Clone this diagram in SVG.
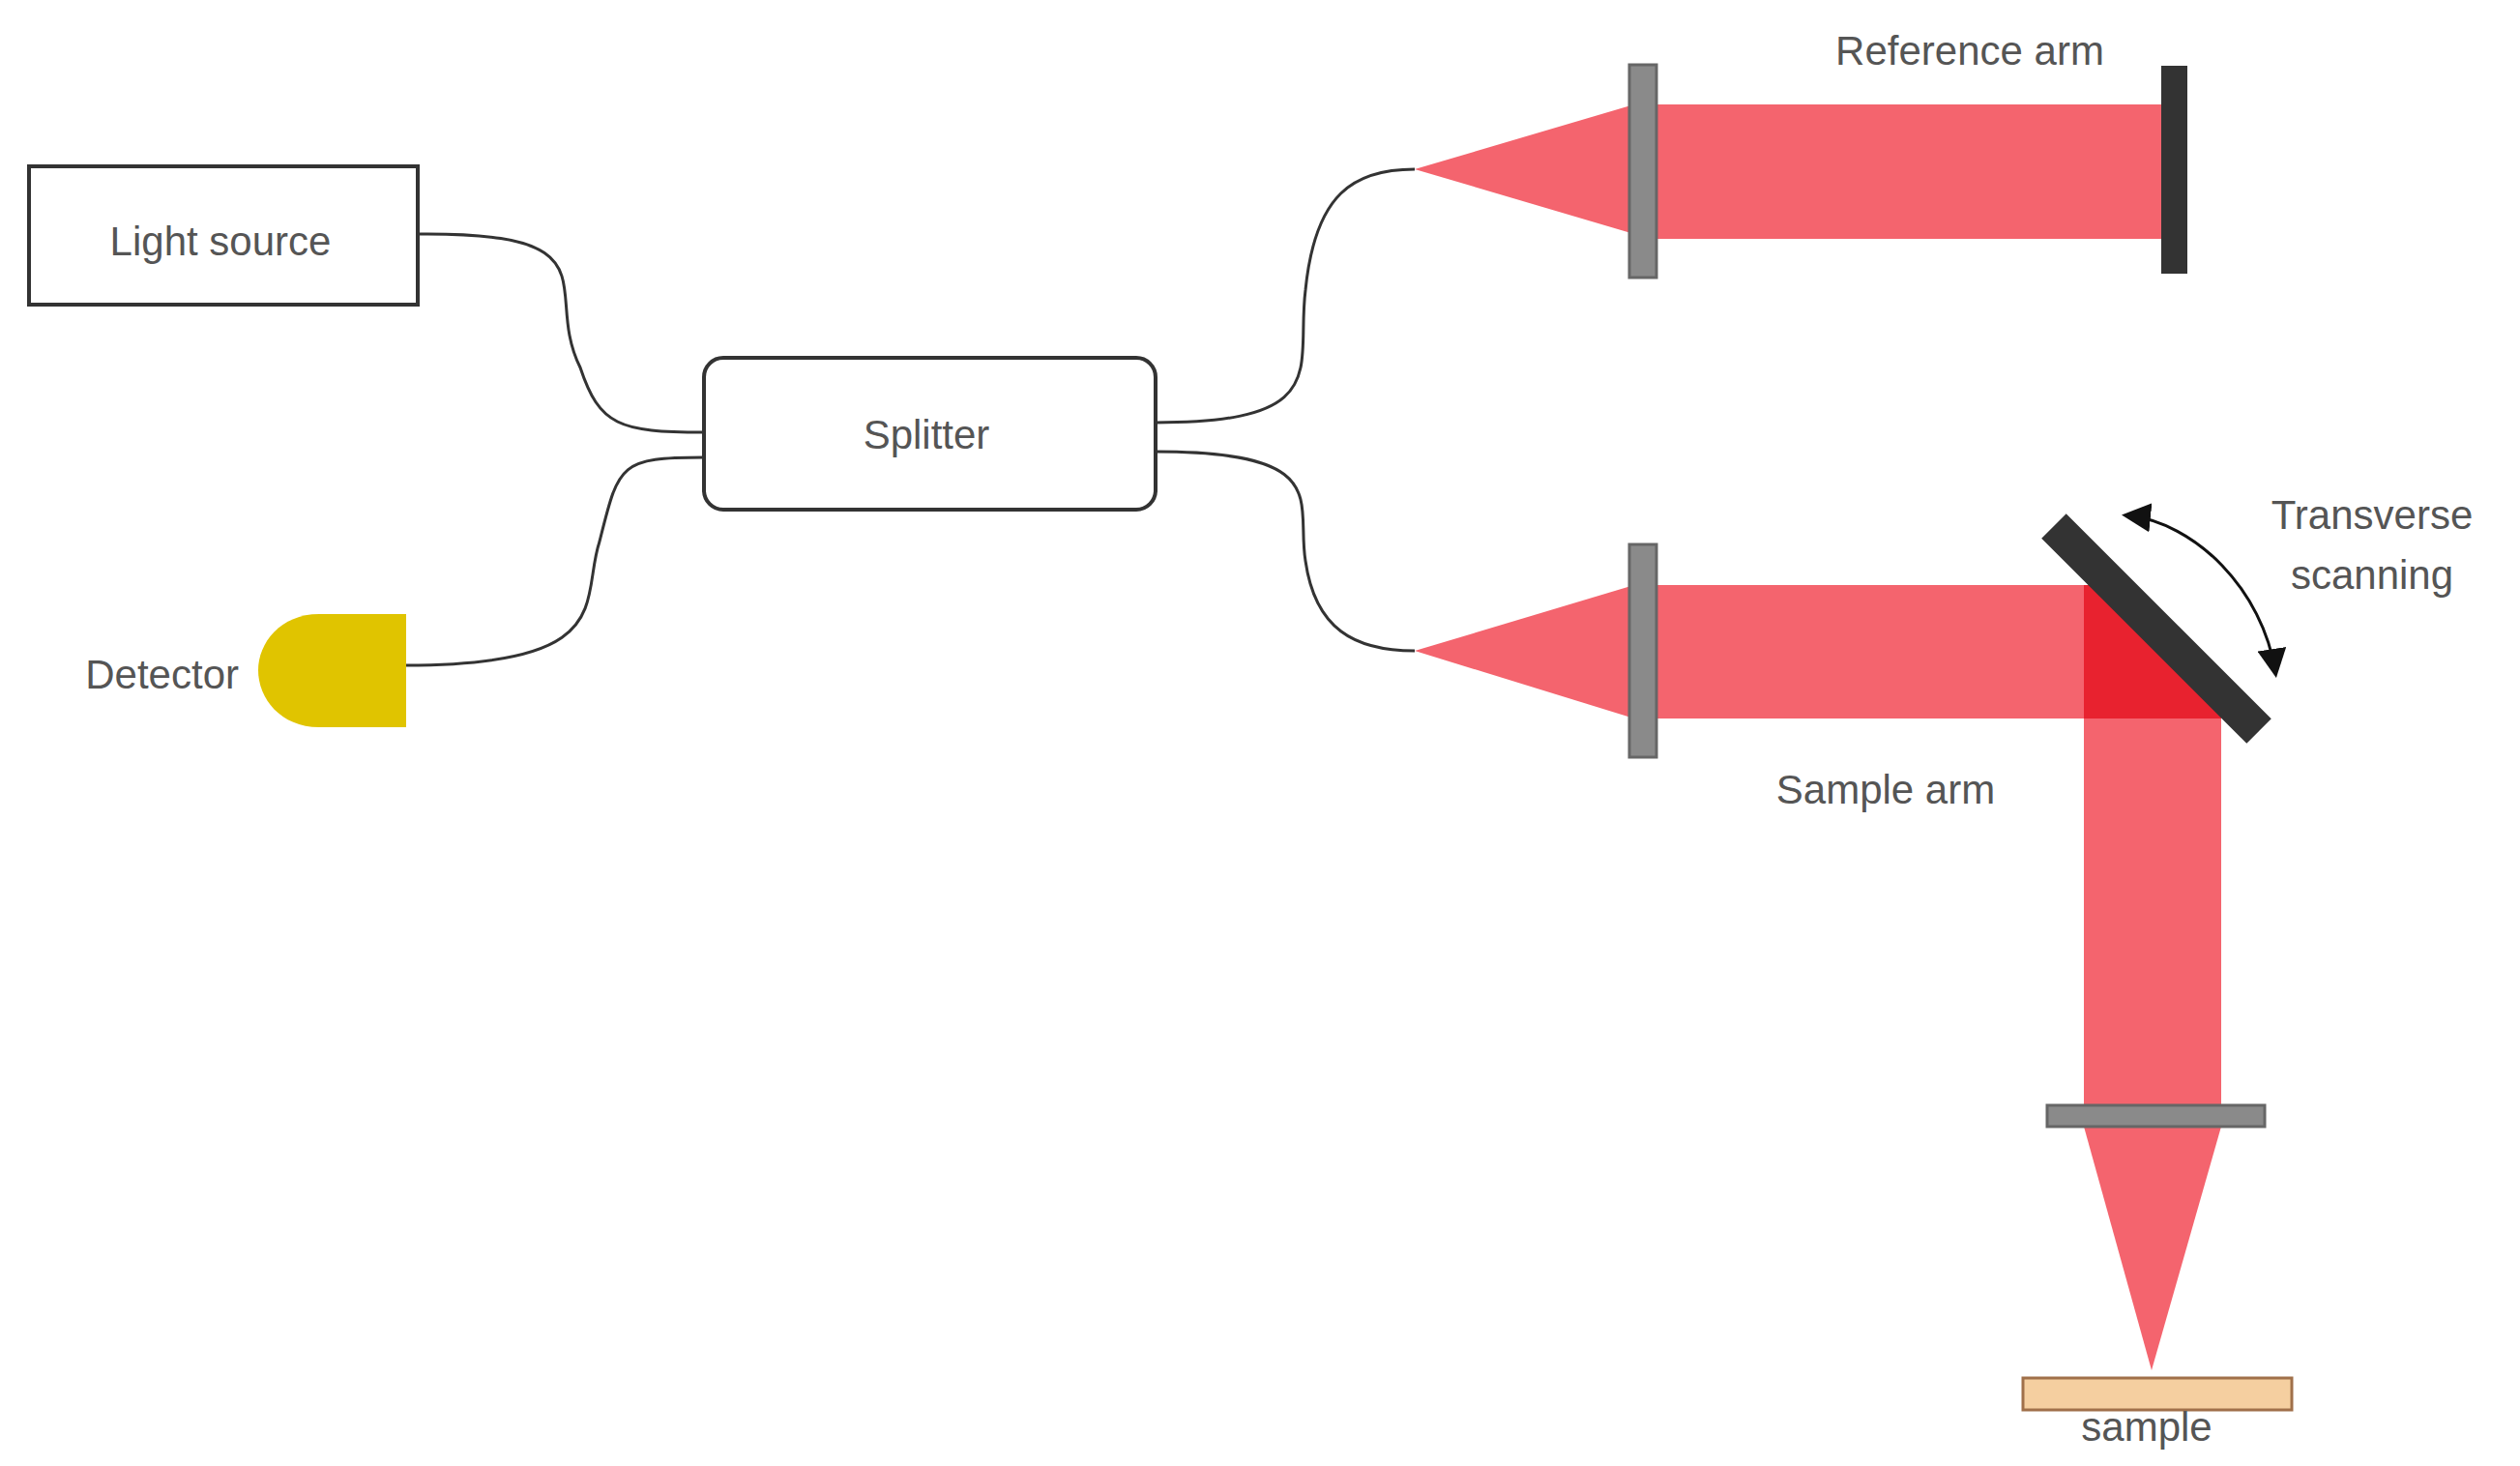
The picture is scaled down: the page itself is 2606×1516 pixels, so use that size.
<svg xmlns="http://www.w3.org/2000/svg" width="2606" height="1516" viewBox="0 0 2606 1516">
<defs>
<style>
text{font-family:"Liberation Sans",Arial,sans-serif;font-size:42px;fill:#555}
.box{fill:#fff;stroke:#333;stroke-width:4}
.fiber{fill:none;stroke:#333;stroke-width:3}
.beam{fill:#f4646e}
.lens{fill:#8a8a8a;stroke:#666;stroke-width:3}
</style>
<marker id="ah" viewBox="0 0 10 10" refX="8" refY="5" markerWidth="10" markerHeight="10" orient="auto-start-reverse"><path d="M0,0L10,5L0,10z" fill="#111"/></marker>
</defs>
<rect width="2606" height="1516" fill="#fff"/>
<g id="connectors">
<path class="fiber" d="M432,242 C640,240 560,300 600,380 C620,440 640,447 728,447"/>
<path class="fiber" d="M420,688 C640,688 600,620 620,560 C640,480 640,473 728,473"/>
<path class="fiber" d="M1195,437 C1380,437 1340,380 1350,300 C1360,200 1400,175 1463,175"/>
<path class="fiber" d="M1195,467 C1380,467 1340,520 1350,580 C1360,650 1400,673 1463,673"/>
</g>
<g id="light-source"><rect class="box" x="30" y="172" width="402" height="143"/><text x="228" y="264" text-anchor="middle">Light source</text></g>
<g id="splitter"><rect class="box" x="728" y="370" width="467" height="157" rx="20"/><text x="958" y="464" text-anchor="middle">Splitter</text></g>
<g id="detector"><path d="M420,635 L330,635 C290,635 267,665 267,693 C267,722 290,752 330,752 L420,752 Z" fill="#e0c400"/><text x="247" y="712" text-anchor="end">Detector</text></g>
<g id="reference-arm">
<polygon class="beam" points="1463,175 1690,108 1690,242"/>
<rect class="beam" x="1713" y="108" width="525" height="139"/>
<rect class="lens" x="1685" y="67" width="28" height="220"/>
<rect x="2235" y="68" width="27" height="215" fill="#333"/>
<text x="2037" y="67" text-anchor="middle">Reference arm</text>
</g>
<g id="sample-arm">
<polygon class="beam" points="1463,673 1690,605 1690,743"/>
<rect class="beam" x="1713" y="605" width="442" height="138"/>
<rect class="beam" x="2155" y="743" width="142" height="400"/>
<polygon points="2155,605 2200,605 2297,700 2297,743 2155,743" fill="#e8222f"/>
<rect class="lens" x="1685" y="563" width="28" height="220"/>
<rect x="2080" y="632" width="300" height="36" fill="#333" transform="rotate(45 2230 650)"/>
<path d="M2200,533 C2270,540 2340,610 2353,695" fill="none" stroke="#111" stroke-width="3" marker-start="url(#ah)" marker-end="url(#ah)"/>
<text x="2453" y="547" text-anchor="middle">Transverse</text>
<text x="2453" y="609" text-anchor="middle">scanning</text>
<text x="1950" y="831" text-anchor="middle">Sample arm</text>
<polygon class="beam" points="2155,1165 2297,1165 2225,1417"/>
<rect class="lens" x="2117" y="1143" width="225" height="22"/>
<rect x="2092" y="1425" width="278" height="33" fill="#f5cfa0" stroke="#a0704a" stroke-width="3"/>
<text x="2220" y="1490" text-anchor="middle">sample</text>
</g>
</svg>
